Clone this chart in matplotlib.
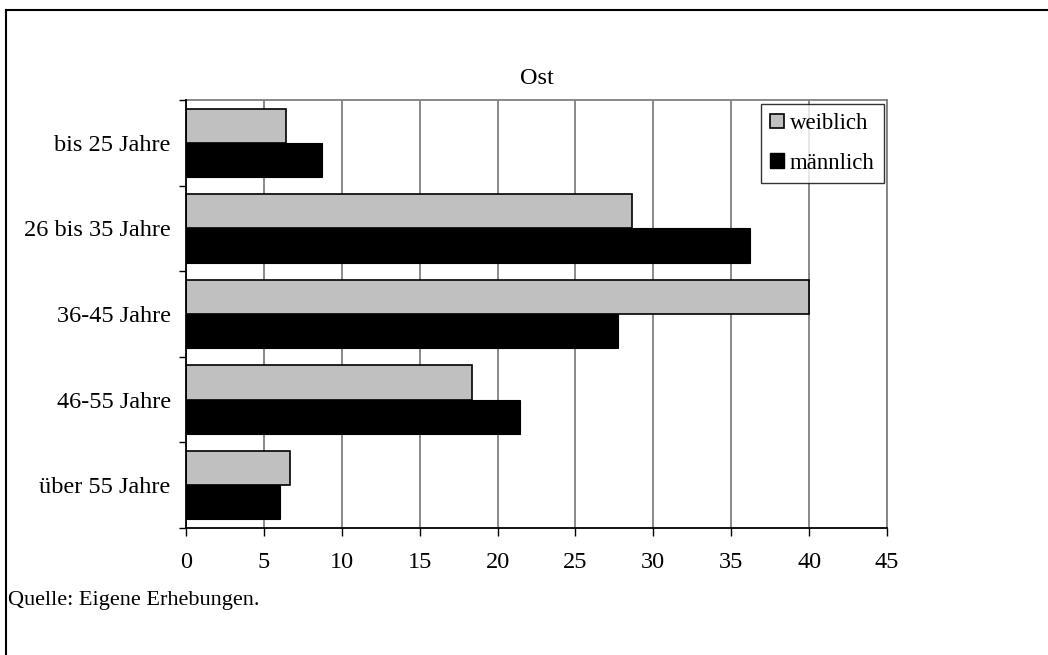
import numpy as np
import matplotlib.pyplot as plt
from matplotlib.patches import Patch
from matplotlib.lines import Line2D

plt.rcParams['font.family'] = ['Liberation Serif', 'DejaVu Serif']

# data
categories = ['bis 25 Jahre', '26 bis 35 Jahre', '36-45 Jahre', '46-55 Jahre', 'über 55 Jahre']
weiblich = [6.4, 28.65, 40.0, 18.35, 6.7]
maennlich = [8.75, 36.2, 27.75, 21.45, 6.05]
xticks = [0, 5, 10, 15, 20, 25, 30, 35, 40, 45]

fs = 17.5

fig = plt.figure(figsize=(10.48, 6.55), dpi=100)
ax = fig.add_axes([186/1048, 1-528/655, (887-186)/1048, (528-100)/655])

y = np.arange(len(categories))
h = 0.4
ax.barh(y - h/2, weiblich, height=h, color='#c0c0c0', edgecolor='black', linewidth=1.2, zorder=3)
ax.barh(y + h/2, maennlich, height=h, color='black', edgecolor='black', linewidth=0.8, zorder=3)

ax.set_xlim(0, 45)
ax.set_ylim(len(categories) - 0.5, -0.5)
ax.set_xticks(xticks)
ax.set_xticklabels([str(t) for t in xticks], fontsize=fs)
ax.set_yticks(y)
ax.set_yticklabels(categories, fontsize=fs)
ax.tick_params(axis='y', length=0, pad=11)
ax.tick_params(axis='x', direction='out', length=6, width=1, pad=11, color='black')
# category boundary ticks on y axis
ax.set_yticks(np.arange(-0.5, len(categories)), minor=True)
ax.tick_params(axis='y', which='minor', length=5, width=1, direction='out')

ax.grid(axis='x', color='#808080', linewidth=1.3, zorder=0)
for s in ['top', 'right']:
    ax.spines[s].set_color('#808080')
    ax.spines[s].set_linewidth(1.3)
for s in ['left', 'bottom']:
    ax.spines[s].set_color('black')
    ax.spines[s].set_linewidth(1.3)
    ax.spines[s].set_zorder(4)

fig.text(537/1048, 1-78/655, 'Ost', ha='center', va='center', fontsize=fs)
fig.text(8/1048, 1-600/655, 'Quelle: Eigene Erhebungen.', ha='left', va='center', fontsize=16)

handles = [Patch(facecolor='#c0c0c0', edgecolor='black', linewidth=1.2),
           Patch(facecolor='black', edgecolor='black')]
leg = ax.legend(handles, ['weiblich', 'männlich'], loc='upper right',
                bbox_to_anchor=(884/1048, 1-104/655), bbox_transform=fig.transFigure,
                fontsize=16.5, frameon=True, fancybox=False, edgecolor='black',
                handlelength=0.6, handleheight=0.6, handletextpad=0.25,
                labelspacing=0.8, borderpad=0.4, borderaxespad=0)
leg.get_frame().set_linewidth(1.0)
leg.set_zorder(5)

# outer frame (top and left edges visible)
fig.add_artist(Line2D([6/1048, 1], [1-10/655, 1-10/655], color='black', linewidth=1.5, transform=fig.transFigure))
fig.add_artist(Line2D([6/1048, 6/1048], [0, 1-10/655], color='black', linewidth=1.5, transform=fig.transFigure))

fig.savefig('out.png', dpi=100)
